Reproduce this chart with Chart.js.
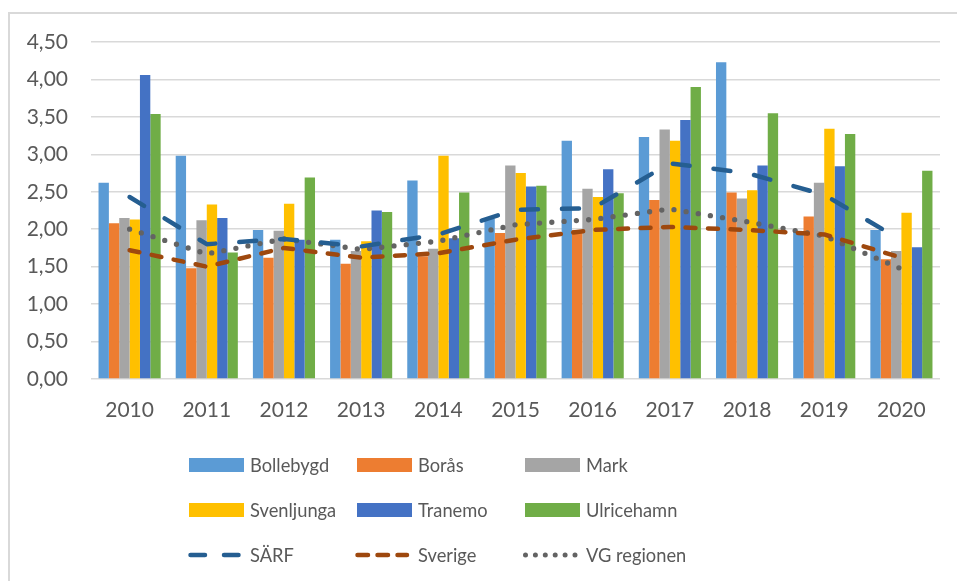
<!DOCTYPE html>
<html>
<head>
<meta charset="utf-8">
<script src="https://cdn.jsdelivr.net/npm/chart.js@4/dist/chart.umd.min.js"></script>
<style>
  body { margin: 0; background: #fff; }
  #wrap { position: relative; width: 957px; height: 581px; overflow: hidden; font-family: Lato, sans-serif; }
  #ram { position: absolute; left: 8px; top: 12px; width: 1000px; height: 700px; border-left: 2px solid #D9D9D9; border-top: 2px solid #D9D9D9; }
  #grafico { position: absolute; left: 0; top: 0; }
  #legenda { position: absolute; left: 0; top: 0; width: 957px; height: 581px; color: #595959; font-size: 18.3px; }
  .item { position: absolute; height: 30px; display: flex; align-items: center; white-space: nowrap; }
  .item svg { margin-right: 6px; }
</style>
</head>
<body>
<div id="wrap">
  <div id="ram"></div>
  <canvas id="grafico" width="957" height="440"></canvas>
  <div id="legenda"></div>
</div>
<script>
// dados
const anos = ['2010', '2011', '2012', '2013', '2014', '2015', '2016', '2017', '2018', '2019', '2020'];
const bollebygd = [2.62, 2.98, 1.99, 1.86, 2.65, 2.14, 3.18, 3.23, 4.23, 1.97, 1.99];
const boras = [2.08, 1.48, 1.62, 1.54, 1.64, 1.95, 1.99, 2.39, 2.49, 2.17, 1.60];
const mark = [2.15, 2.12, 1.98, 1.71, 1.74, 2.85, 2.54, 3.33, 2.41, 2.62, 1.71];
const svenljunga = [2.13, 2.33, 2.34, 1.84, 2.98, 2.75, 2.43, 3.18, 2.52, 3.34, 2.22];
const tranemo = [4.06, 2.15, 1.86, 2.25, 1.88, 2.57, 2.80, 3.46, 2.85, 2.84, 1.76];
const ulricehamn = [3.54, 1.69, 2.69, 2.23, 2.49, 2.58, 2.48, 3.90, 3.55, 3.27, 2.78];
const sarf = [2.43, 1.80, 1.87, 1.77, 1.93, 2.26, 2.28, 2.88, 2.75, 2.46, 1.85];
const sverige = [1.72, 1.50, 1.75, 1.62, 1.68, 1.86, 1.99, 2.03, 1.99, 1.93, 1.62];
const vgRegionen = [2.00, 1.67, 1.87, 1.73, 1.84, 2.06, 2.13, 2.27, 2.10, 1.91, 1.47];
const yTicks = [0, 0.5, 1, 1.5, 2, 2.5, 3, 3.5, 4, 4.5];

const corTexto = '#595959';

function barra(label, data, cor) {
  return { type: 'bar', label: label, data: data, backgroundColor: cor, borderWidth: 0, order: 2,
    categoryPercentage: 0.805, barPercentage: 1.0 };
}
function linha(label, data, cor, dash, larg) {
  return { type: 'line', label: label, data: data, borderColor: cor, backgroundColor: cor,
    borderWidth: larg, borderDash: dash, borderCapStyle: 'round', borderJoinStyle: 'round',
    pointRadius: 0, tension: 0, fill: false, order: 1 };
}

const datasets = [
  barra('Bollebygd', bollebygd, '#5B9BD5'),
  barra('Borås', boras, '#ED7D31'),
  barra('Mark', mark, '#A5A5A5'),
  barra('Svenljunga', svenljunga, '#FFC000'),
  barra('Tranemo', tranemo, '#4472C4'),
  barra('Ulricehamn', ulricehamn, '#70AD47'),
  linha('SÄRF', sarf, '#255E91', [17, 24], 4.5),
  linha('Sverige', sverige, '#9E480E', [10, 12.5], 4.5),
  linha('VG regionen', vgRegionen, '#636363', [0, 12.3], 5.3)
];

const config = {
  type: 'bar',
  data: { labels: anos, datasets: datasets },
  options: {
    responsive: false,
    animation: false,
    devicePixelRatio: 1,
    layout: { padding: { left: 0, right: 17, top: 42, bottom: 0 } },
    plugins: { legend: { display: false }, tooltip: { enabled: false } },
    scales: {
      x: {
        grid: { display: false, drawTicks: false },
        border: { display: false },
        ticks: { color: corTexto, font: { family: 'Lato', size: 21 }, padding: 19, maxRotation: 0 },
        afterFit: function (s) { s.height = 61; }
      },
      y: {
        min: 0, max: 4.5,
        afterBuildTicks: function (s) { s.ticks = yTicks.map(v => ({ value: v })); },
        grid: { color: '#D9D9D9', lineWidth: 1.5, drawTicks: false },
        border: { display: false },
        ticks: {
          color: corTexto, font: { family: 'Lato', size: 21 }, padding: 23,
          callback: v => v.toFixed(2).replace('.', ',')
        },
        afterFit: function (s) { s.width = 91; }
      }
    }
  }
};

// legenda em 3 colunas, como no original
function criaLegenda(chart) {
  const box = document.getElementById('legenda');
  const colX = [189, 357, 525];
  const rowY = [450, 495, 540];
  chart.data.datasets.forEach(function (ds, i) {
    const el = document.createElement('div');
    el.className = 'item';
    el.style.left = (colX[i % 3] - 2) + 'px';
    el.style.top = rowY[Math.floor(i / 3)] + 'px';
    let svg;
    if (ds.type === 'bar') {
      svg = `<svg width="57" height="14"><rect x="2" y="0" width="55" height="14" fill="${ds.backgroundColor}"/></svg>`;
    } else if (ds.label === 'SÄRF') {
      svg = `<svg width="57" height="14"><line x1="3.5" y1="7" x2="53" y2="7" stroke="${ds.borderColor}" stroke-width="4.5" stroke-linecap="round" stroke-dasharray="14.5 19"/></svg>`;
    } else if (ds.label === 'Sverige') {
      svg = `<svg width="57" height="14"><line x1="2.5" y1="7" x2="52" y2="7" stroke="${ds.borderColor}" stroke-width="4.5" stroke-linecap="round" stroke-dasharray="10.5 9.5"/></svg>`;
    } else {
      svg = `<svg width="57" height="14"><line x1="2.5" y1="7" x2="52" y2="7" stroke="${ds.borderColor}" stroke-width="5" stroke-linecap="round" stroke-dasharray="0 9.9"/></svg>`;
    }
    el.innerHTML = svg + '<span>' + ds.label + '</span>';
    box.appendChild(el);
  });
}

window.onload = function () {
  const ctx = document.getElementById('grafico').getContext('2d');
  window.graficoTaxa = new Chart(ctx, config);
  criaLegenda(window.graficoTaxa);
};
</script>
</body>
</html>
